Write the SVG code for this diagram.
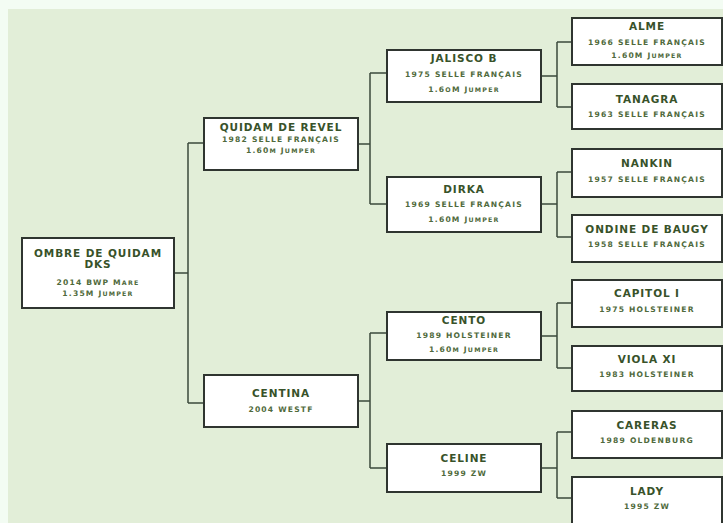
<svg xmlns="http://www.w3.org/2000/svg" width="723" height="523" viewBox="0 0 723 523">
<style>
.box{fill:#ffffff;stroke:#2f3530;stroke-width:2}
.nm{font-family:"DejaVu Sans",sans-serif;font-weight:bold;font-size:10.5px;fill:#38522a;text-anchor:middle;letter-spacing:0.9px}
.dt{font-family:"DejaVu Sans",sans-serif;font-weight:bold;font-size:7.6px;fill:#4f6a3c;text-anchor:middle;letter-spacing:1.2px}
.s{font-size:6.3px}
.ln{fill:none;stroke:#3b4a3b;stroke-width:1.5}
</style>
<rect x="0" y="0" width="723" height="523" fill="#f3fcf3"/>
<rect x="8" y="9" width="715" height="514" fill="#e2eed8"/>
<g id="connectors">
<path class="ln" d="M174 273H188M188 143V403M188 143H204M188 403H204"/>
<path class="ln" d="M358 144H370M370 73V204M370 73H387M370 204H387"/>
<path class="ln" d="M358 401H370M370 333V468M370 333H387M370 468H387"/>
<path class="ln" d="M541 76H557M557 42V107M557 42H572M557 107H572"/>
<path class="ln" d="M541 204H557M557 172V237M557 172H572M557 237H572"/>
<path class="ln" d="M541 336H557M557 303V368M557 303H572M557 368H572"/>
<path class="ln" d="M541 468H557M557 432V498M557 432H572M557 498H572"/>
</g>
<g id="n-ombre">
<rect class="box" x="22" y="238" width="152" height="70"/>
<text class="nm" x="98" y="257">OMBRE DE QUIDAM</text>
<text class="nm" x="98" y="268">DKS</text>
<text class="dt" x="98" y="285">2014 BWP M<tspan class="s">ARE</tspan></text>
<text class="dt" x="98" y="296">1.35M J<tspan class="s">UMPER</tspan></text>
</g>
<g id="n-quidam">
<rect class="box" x="204" y="118" width="154" height="52"/>
<text class="nm" x="281" y="131">QUIDAM DE REVEL</text>
<text class="dt" x="281" y="142">1982 SELLE FRANÇAIS</text>
<text class="dt" x="281" y="153">1.60<tspan class="s">M</tspan> J<tspan class="s">UMPER</tspan></text>
</g>
<g id="n-centina">
<rect class="box" x="204" y="375" width="154" height="52"/>
<text class="nm" x="281" y="397">CENTINA</text>
<text class="dt" x="281" y="412">2004 WESTF</text>
</g>
<g id="n-jalisco">
<rect class="box" x="387" y="50" width="154" height="52"/>
<text class="nm" x="464" y="62">JALISCO B</text>
<text class="dt" x="464" y="77">1975 SELLE FRANÇAIS</text>
<text class="dt" x="464" y="92">1.6<tspan class="s">O</tspan>M J<tspan class="s">UMPER</tspan></text>
</g>
<g id="n-dirka">
<rect class="box" x="387" y="177" width="154" height="55"/>
<text class="nm" x="464" y="193">DIRKA</text>
<text class="dt" x="464" y="207">1969 SELLE FRANÇAIS</text>
<text class="dt" x="464" y="222">1.60M J<tspan class="s">UMPER</tspan></text>
</g>
<g id="n-cento">
<rect class="box" x="387" y="312" width="154" height="48"/>
<text class="nm" x="464" y="324">CENTO</text>
<text class="dt" x="464" y="338">1989 HOLSTEINER</text>
<text class="dt" x="464" y="352">1.60<tspan class="s">M</tspan> J<tspan class="s">UMPER</tspan></text>
</g>
<g id="n-celine">
<rect class="box" x="387" y="444" width="154" height="48"/>
<text class="nm" x="464" y="462">CELINE</text>
<text class="dt" x="464" y="476">1999 ZW</text>
</g>
<g id="n-alme">
<rect class="box" x="572" y="18" width="150" height="47"/>
<text class="nm" x="647" y="30">ALME</text>
<text class="dt" x="647" y="45">1966 SELLE FRANÇAIS</text>
<text class="dt" x="647" y="58">1.60M J<tspan class="s">UMPER</tspan></text>
</g>
<g id="n-tanagra">
<rect class="box" x="572" y="84" width="150" height="45"/>
<text class="nm" x="647" y="103">TANAGRA</text>
<text class="dt" x="647" y="117">1963 SELLE FRANÇAIS</text>
</g>
<g id="n-nankin">
<rect class="box" x="572" y="149" width="150" height="48"/>
<text class="nm" x="647" y="167">NANKIN</text>
<text class="dt" x="647" y="182">1957 SELLE FRANÇAIS</text>
</g>
<g id="n-ondine">
<rect class="box" x="572" y="215" width="150" height="47"/>
<text class="nm" x="647" y="233">ONDINE DE BAUGY</text>
<text class="dt" x="647" y="247">1958 SELLE FRANÇAIS</text>
</g>
<g id="n-capitol">
<rect class="box" x="572" y="280" width="150" height="47"/>
<text class="nm" x="647" y="297">CAPITOL I</text>
<text class="dt" x="647" y="312">1975 HOLSTEINER</text>
</g>
<g id="n-viola">
<rect class="box" x="572" y="346" width="150" height="45"/>
<text class="nm" x="647" y="363">VIOLA XI</text>
<text class="dt" x="647" y="377">1983 HOLSTEINER</text>
</g>
<g id="n-careras">
<rect class="box" x="572" y="411" width="150" height="47"/>
<text class="nm" x="647" y="429">CARERAS</text>
<text class="dt" x="647" y="443">1989 OLDENBURG</text>
</g>
<g id="n-lady">
<rect class="box" x="572" y="477" width="150" height="50"/>
<text class="nm" x="647" y="495">LADY</text>
<text class="dt" x="647" y="509">1995 ZW</text>
</g>
</svg>
